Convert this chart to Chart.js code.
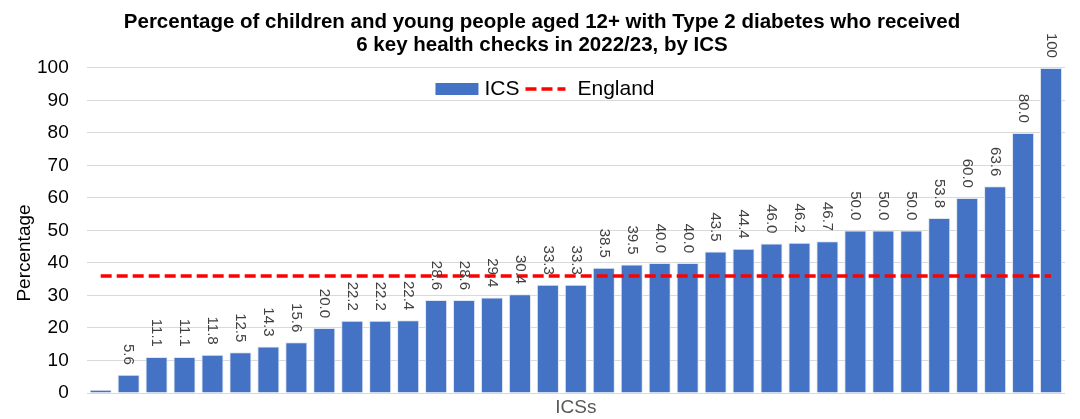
<!DOCTYPE html>
<html>
<head>
<meta charset="utf-8">
<script src="https://cdn.jsdelivr.net/npm/chart.js@4/dist/chart.umd.min.js"></script>
<style>
  html, body { margin: 0; padding: 0; background: #ffffff; }
  #wrap { width: 1080px; height: 419px; }
</style>
</head>
<body>
<div id="wrap"><canvas id="c" width="1080" height="419"></canvas></div>
<script>
// ICS results, sorted ascending
const icsNames = Array.from({ length: 35 }, (_, i) => 'ICS ' + (i + 1));
const icsValues = [1.0, 5.6, 11.1, 11.1, 11.8, 12.5, 14.3, 15.6, 20.0, 22.2, 22.2, 22.4,
  28.6, 28.6, 29.4, 30.4, 33.3, 33.3, 38.5, 39.5, 40.0, 40.0, 43.5, 44.4, 46.0, 46.2,
  46.7, 50.0, 50.0, 50.0, 53.8, 60.0, 63.6, 80.0, 100];
// bars whose value label is printed (the smallest one is left unlabelled)
const labelShown = icsValues.map((v, i) => i !== 0);
const englandValue = 36.0;
const englandValues = icsNames.map(() => englandValue);
const yTicks = [0, 10, 20, 30, 40, 50, 60, 70, 80, 90, 100];

const FONT = "'Liberation Sans', Arial, sans-serif";
const BAR_BLUE = '#4472C4';
const ENG_RED = '#FF0000';
const ENG_DASH = [11, 5];

// vertical value labels above each bar
const barLabels = {
  id: 'barLabels',
  afterDatasetsDraw(chart) {
    const meta = chart.getDatasetMeta(0);
    const ctx = chart.ctx;
    ctx.save();
    ctx.font = '15px ' + FONT;
    ctx.fillStyle = '#404040';
    meta.data.forEach((bar, i) => {
      if (!labelShown[i]) return;
      const v = icsValues[i];
      const txt = v === 100 ? '100' : v.toFixed(1);
      ctx.save();
      ctx.translate(bar.x, bar.y - 10);
      ctx.rotate(Math.PI / 2);
      ctx.textAlign = 'right';
      ctx.textBaseline = 'middle';
      ctx.fillText(txt, 0, 0);
      ctx.restore();
    });
    ctx.restore();
  }
};

// single-row legend inside the plot, plus the rotated y-axis title
const chartDecor = {
  id: 'chartDecor',
  afterDraw(chart) {
    const ctx = chart.ctx;
    const ds = chart.data.datasets;
    ctx.save();
    ctx.font = '21px ' + FONT;
    ctx.fillStyle = '#000000';
    ctx.textBaseline = 'middle';
    ctx.textAlign = 'left';
    const boxW = 43, boxH = 12, lineW = 40, gap1 = 6, gap2 = 6, gap3 = 12;
    const w1 = ctx.measureText(ds[0].label).width;
    const w2 = ctx.measureText(ds[1].label).width;
    const total = boxW + gap1 + w1 + gap2 + lineW + gap3 + w2;
    const cy = 89;
    let x = chart.width / 2 + 5 - total / 2;
    ctx.fillStyle = ds[0].backgroundColor;
    ctx.fillRect(x, cy - boxH / 2, boxW, boxH);
    x += boxW + gap1;
    ctx.fillStyle = '#000000';
    ctx.fillText(ds[0].label, x, cy);
    x += w1 + gap2;
    ctx.strokeStyle = ds[1].borderColor;
    ctx.lineWidth = 3.5;
    ctx.setLineDash(ENG_DASH);
    ctx.beginPath();
    ctx.moveTo(x, cy);
    ctx.lineTo(x + lineW, cy);
    ctx.stroke();
    ctx.setLineDash([]);
    x += lineW + gap3;
    ctx.fillText(ds[1].label, x, cy);

    // y-axis title
    ctx.font = '19px ' + FONT;
    ctx.textAlign = 'center';
    ctx.translate(25, 253);
    ctx.rotate(-Math.PI / 2);
    ctx.fillText('Percentage', 0, 0);
    ctx.restore();
  }
};

new Chart(document.getElementById('c'), {
  data: {
    labels: icsNames,
    datasets: [
      {
        type: 'bar',
        label: 'ICS',
        data: icsValues,
        backgroundColor: BAR_BLUE,
        borderColor: '#dfe6f3',
        borderWidth: 1,
        barPercentage: 0.79,
        categoryPercentage: 1.0,
        order: 2
      },
      {
        type: 'line',
        label: 'England',
        data: englandValues,
        borderColor: ENG_RED,
        backgroundColor: ENG_RED,
        borderWidth: 3.5,
        borderDash: ENG_DASH,
        pointRadius: 0,
        fill: false,
        order: 1
      }
    ]
  },
  options: {
    responsive: false,
    animation: false,
    layout: { padding: { left: 19, right: 15, top: 11, bottom: 0 } },
    plugins: {
      title: {
        display: true,
        text: ['Percentage of children and young people aged 12+ with Type 2 diabetes who received',
               '6 key health checks in 2022/23, by ICS'],
        font: { family: FONT, size: 20.5, weight: 'bold', lineHeight: 1.12 },
        color: '#000000',
        padding: { top: 0, bottom: 11 }
      },
      legend: { display: false },
      tooltip: { enabled: false }
    },
    scales: {
      x: {
        grid: { display: false, drawTicks: false },
        border: { display: false },
        ticks: { display: false },
        title: {
          display: true,
          text: 'ICSs',
          font: { family: FONT, size: 19, lineHeight: 1.0 },
          color: '#595959',
          padding: { top: 5, bottom: 2 }
        }
      },
      y: {
        min: 0,
        max: 100,
        afterBuildTicks(axis) { axis.ticks = yTicks.map(v => ({ value: v })); },
        // the tick gap is horizontal only; keep the end labels' overhang small
        afterFit(axis) { axis.paddingTop = 12; axis.paddingBottom = 12; },
        grid: { color: '#d9d9d9', lineWidth: 1, drawTicks: false },
        border: { display: false },
        ticks: {
          font: { family: FONT, size: 19 },
          color: '#000000',
          padding: 18
        }
      }
    }
  },
  plugins: [barLabels, chartDecor]
});
</script>
</body>
</html>
